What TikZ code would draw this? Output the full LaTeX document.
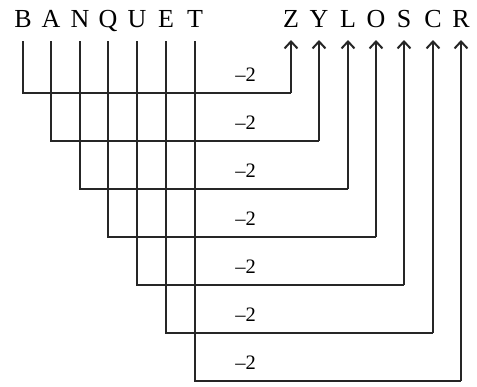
\documentclass[tikz,border=0pt]{standalone}
\usepackage{fontspec}
\setmainfont{Liberation Serif}
\usetikzlibrary{arrows.meta}
\begin{document}
\begin{tikzpicture}[x=1pt,y=-1pt,
  letter/.style={anchor=base,inner sep=0pt,font=\fontsize{26}{26}\selectfont},
  lab/.style={inner sep=0pt,font=\fontsize{20.5}{20.5}\selectfont},
  conn/.style={line width=2pt,line join=miter,color=black!85},
  arr/.style={conn,-{Straight Barb[length=7pt,width=13pt,line width=2pt]}}]
\useasboundingbox (0,0) rectangle (477,386);
% left letters
\foreach \n/\t/\x in {B/B/23,A/A/51,N/N/80,Q/Q/108,U/U/137,E/E/166,T/T/195}
  \node[letter] (\n) at (\x,27) {\t};
% right letters
\foreach \n/\t/\x in {Z/Z/291,Y/Y/319,L/L/348,O/O/376,S/S/404,C/C/433,R/R/461}
  \node[letter] (\n) at (\x,27) {\t};
% horizontal levels
\foreach \i/\y in {1/93,2/141,3/189,4/237,5/285,6/333,7/381}{
  \coordinate (h\i) at (0,\y);
  \node[lab] (l\i) at (245.5,\y-18.5) {–2};
}
\foreach \a/\b/\i in {B/Z/1,A/Y/2,N/L/3,Q/O/4,U/S/5,E/C/6,T/R/7}{
  \draw[conn] ([yshift=-14pt]\a.base) -- (\a.base |- h\i) -- (\b.base |- h\i);
  \draw[arr] (\b.base |- h\i) -- ([yshift=-13pt]\b.base);
}
\end{tikzpicture}
\end{document}
